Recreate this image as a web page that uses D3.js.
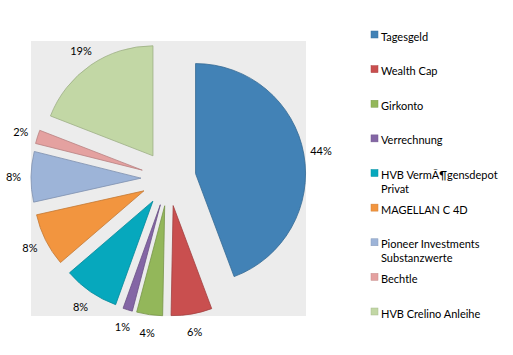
<!DOCTYPE html>
<html>
<head>
<meta charset="utf-8">
<script src="https://cdn.jsdelivr.net/npm/d3@7"></script>
<style>
  html, body { margin: 0; padding: 0; background: #fff; }
  svg { display: block; }
  text { font-family: Lato, "Open Sans", sans-serif; fill: #000; }
</style>
</head>
<body>
<svg id="chart" width="513" height="355"></svg>
<script>
const categories = ["Tagesgeld", "Wealth Cap", "Girkonto", "Verrechnung", "HVB VermÃ¶gensdepot Privat", "MAGELLAN C 4D", "Pioneer Investments Substanzwerte", "Bechtle", "HVB Crelino Anleihe"];
const legendLines = [["Tagesgeld"], ["Wealth Cap"], ["Girkonto"], ["Verrechnung"], ["HVB VermÃ¶gensdepot", "Privat"], ["MAGELLAN C 4D"], ["Pioneer Investments", "Substanzwerte"], ["Bechtle"], ["HVB Crelino Anleihe"]];
const values = [44.3, 6.0, 3.8, 1.4, 8.2, 7.8, 7.4, 2.0, 19.1];
const labels = ["44%", "6%", "4%", "1%", "8%", "8%", "8%", "2%", "19%"];
const colors = ["#4282B6", "#C94F4F", "#93B75A", "#8466A5", "#06A8BD", "#F2953F", "#9DB4D8", "#E4A1A0", "#C2D7A5"];

const svg = d3.select("#chart");
const plot = {x: 31, y: 41, w: 275, h: 275};
svg.append("rect").attr("x", plot.x).attr("y", plot.y).attr("width", plot.w).attr("height", plot.h).attr("fill", "#ECECEC");

const cx = plot.x + plot.w / 2, cy = plot.y + plot.h / 2;
const R = 110, explode = 27.5, labelR = 155;

const pie = d3.pie().sort(null).value(d => d).startAngle(0).endAngle(2 * Math.PI);
const arcs = pie(values);
const arc = d3.arc().innerRadius(0).outerRadius(R);

const g = svg.append("g").attr("transform", `translate(${cx},${cy})`);
g.selectAll("path").data(arcs).join("path")
  .attr("d", arc)
  .attr("transform", d => {
    const a = (d.startAngle + d.endAngle) / 2;
    return `translate(${explode * Math.sin(a)},${-explode * Math.cos(a)})`;
  })
  .attr("fill", (d, i) => colors[i])
  .attr("stroke", (d, i) => d3.color(colors[i]).darker(0.6))
  .attr("stroke-width", 0.8)
  .attr("stroke-linejoin", "round");

g.selectAll("text.lbl").data(arcs).join("text")
  .attr("class", "lbl")
  .attr("x", d => labelR * Math.sin((d.startAngle + d.endAngle) / 2))
  .attr("y", d => -labelR * Math.cos((d.startAngle + d.endAngle) / 2))
  .attr("text-anchor", "middle")
  .attr("dominant-baseline", "central")
  .attr("font-size", 11)
  .text((d, i) => labels[i]);

const legY = d3.scalePoint().domain(categories).range([35.5, 312.5]);
const leg = svg.append("g");
categories.forEach((c, i) => {
  const y = legY(c);
  leg.append("rect").attr("x", 371).attr("y", y - 4.5).attr("width", 7).attr("height", 7)
    .attr("fill", colors[i]).attr("stroke", d3.color(colors[i]).darker(0.4)).attr("stroke-width", 0.5);
  const t = leg.append("text").attr("x", 381).attr("y", y).attr("dominant-baseline", "central").attr("font-size", 11);
  legendLines[i].forEach((ln, j) => {
    t.append("tspan").attr("x", 381).attr("dy", j === 0 ? 0 : 14).text(ln);
  });
});
</script>
</body>
</html>
